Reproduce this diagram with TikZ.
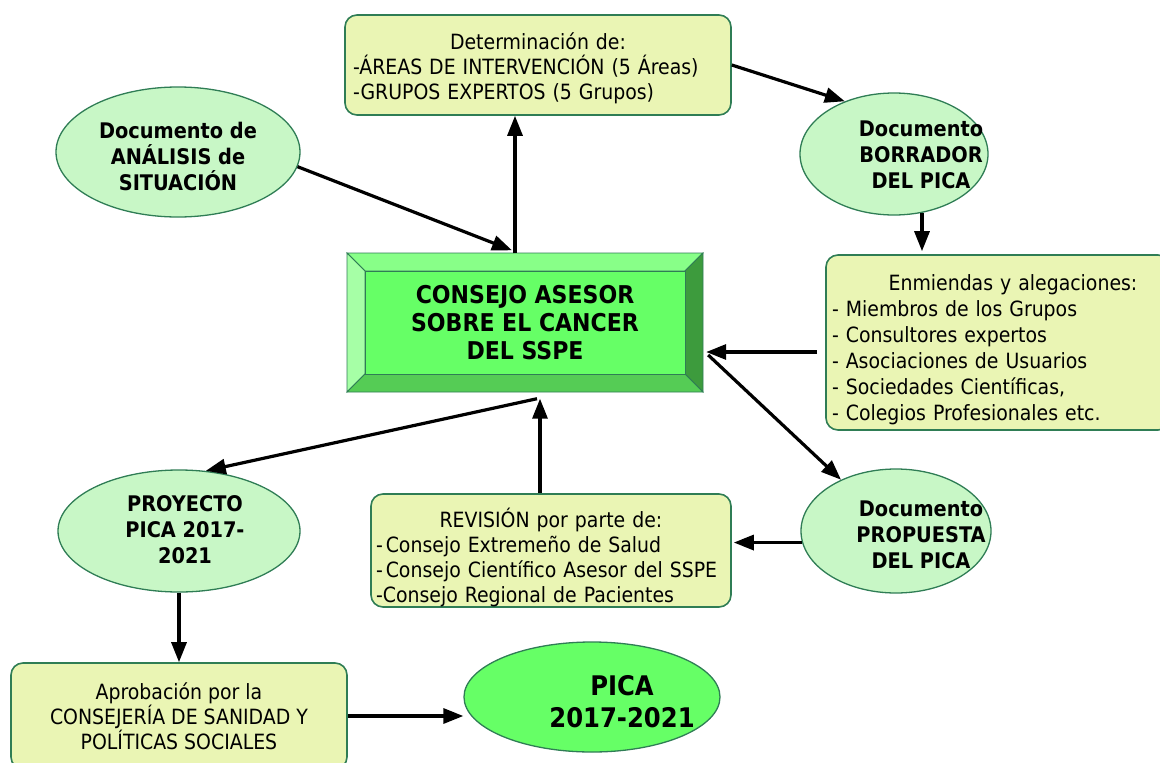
\documentclass[tikz,border=0pt]{standalone}
\usepackage{fontspec}
\setmainfont{DejaVu Sans Condensed}
\usetikzlibrary{arrows.meta,shapes.geometric,calc}
\definecolor{boxfill}{RGB}{234,245,180}
\definecolor{edge}{RGB}{47,125,85}
\definecolor{ellfill}{RGB}{200,247,198}
\definecolor{bright}{RGB}{102,255,102}
\definecolor{bevtop}{RGB}{136,255,136}
\definecolor{bevleft}{RGB}{166,255,166}
\definecolor{bevright}{RGB}{61,155,61}
\definecolor{bevbot}{RGB}{85,204,85}
\begin{document}
\begin{tikzpicture}[x=1pt,y=-1pt,
 box/.style={draw=edge, line width=1.6pt, fill=boxfill, rounded corners=12pt, inner sep=0pt, font=\fontsize{21}{25}\selectfont},
 ell/.style={draw=edge, line width=1.3pt, fill=ellfill, ellipse, inner sep=0pt},
 btxt/.style={font=\bfseries\fontsize{21.5}{26}\selectfont, align=center, inner sep=0pt},
 arr/.style={line width=3.2pt, -{Triangle[length=20pt,width=15pt]}},
 bev/.style={draw=edge, line width=0.8pt},
]
\useasboundingbox (0,0) rectangle (1160,763);

% central bevelled box
\filldraw[bev, fill=bevtop] (347,253) -- (703,253) -- (685,271) -- (365,271) -- cycle;
\filldraw[bev, fill=bevleft] (347,253) -- (365,271) -- (365,374) -- (347,392) -- cycle;
\filldraw[bev, fill=bevright] (703,253) -- (703,392) -- (685,374) -- (685,271) -- cycle;
\filldraw[bev, fill=bevbot] (347,392) -- (703,392) -- (685,374) -- (365,374) -- cycle;
\filldraw[bev, fill=bright] (365,271) rectangle (685,374);
\node[minimum width=356pt, minimum height=139pt, inner sep=0pt, align=center,
  font=\bfseries\fontsize{24.5}{28}\selectfont] (cab) at (525,323)
  {CONSEJO ASESOR\\SOBRE EL CANCER\\DEL SSPE};

% boxes
\node[box, minimum width=386pt, minimum height=100pt, text width=370pt, align=left] (det) at (538,65)
  {\rule{0pt}{23pt}\makebox[370pt][c]{Determinación de:}\\-ÁREAS DE INTERVENCIÓN (5 Áreas)\\-GRUPOS EXPERTOS (5 Grupos)};
\node[box, minimum width=344pt, minimum height=175pt, text width=332pt, align=left,
  font=\fontsize{21}{26}\selectfont] (enm) at (998,342.5)
  {\rule{0pt}{30pt}\hspace*{-1pt}\makebox[364pt][c]{Enmiendas y alegaciones:}\\- Miembros de los Grupos\\- Consultores expertos\\- Asociaciones de Usuarios\\- Sociedades Científicas,\\- Colegios Profesionales etc.};
\node[box, minimum width=360pt, minimum height=113pt, text width=350pt, align=left] (rev) at (551,550.5)
  {\rule{0pt}{33pt}\makebox[350pt][c]{REVISIÓN por parte de:}\\-\hspace{3pt}Consejo Extremeño de Salud\\-\hspace{3pt}Consejo Científico Asesor del SSPE\\-Consejo Regional de Pacientes};
\node[box, minimum width=336pt, minimum height=106pt, align=center] (apr) at (179,716)
  {Aprobación por la\\CONSEJERÍA DE SANIDAD Y\\POLÍTICAS SOCIALES};

% ellipses
\node[ell, minimum width=244pt, minimum height=130pt] (ana) at (178,152) {};
\node[btxt] (anat) at (178,156) {Documento de\\ANÁLISIS de\\SITUACIÓN};
\node[ell, minimum width=188pt, minimum height=122pt] (bor) at (894,154) {};
\node[btxt] (bort) at (921,155) {Documento\\BORRADOR\\DEL PICA};
\node[ell, minimum width=190pt, minimum height=124pt] (pro) at (896,531) {};
\node[btxt] (prot) at (921,535) {Documento\\PROPUESTA\\DEL PICA};
\node[ell, minimum width=242pt, minimum height=122pt] (proy) at (179,531) {};
\node[btxt] (proyt) at (185,530) {PROYECTO\\PICA 2017-\\2021};
\node[ell, fill=bright, minimum width=256pt, minimum height=110pt] (pica) at (592,697) {};
\node[btxt, font=\bfseries\fontsize{27}{32}\selectfont] (picat) at (622,702) {PICA\\2017-2021};

% connectors
\draw[arr] ([xshift=-10pt]cab.north) -- ([xshift=-10pt]cab.north |- det.south);
\draw[arr] (ana.-7) -- ([xshift=-13pt,yshift=3pt]cab.north);
\draw[arr] (det.east) -- (bor.133);
\draw[arr] ([xshift=28pt,yshift=3pt]bor.south) -- ([xshift=28pt,yshift=3pt]bor.south |- enm.north);
\draw[arr] ([shift={(-8pt,-9.5pt)}]enm.west) coordinate (es) -- ([xshift=3pt]es -| cab.east);
\draw[arr] ([shift={(5pt,-32pt)}]cab.east) -- (pro.137);
\draw[arr] (pro.187) coordinate (ps) -- ([xshift=2pt]ps -| rev.east);
\draw[arr, shorten >=6pt] ([xshift=-11pt]rev.north) -- ([xshift=-11pt]rev.north |- cab.south);
\draw[arr] ([shift={(12pt,-6pt)}]cab.south) -- (proy.66);
\draw[arr] (proy.south) -- (apr.north);
\draw[arr] (apr.east) -- (apr.east -| pica.west);
\end{tikzpicture}
\end{document}
